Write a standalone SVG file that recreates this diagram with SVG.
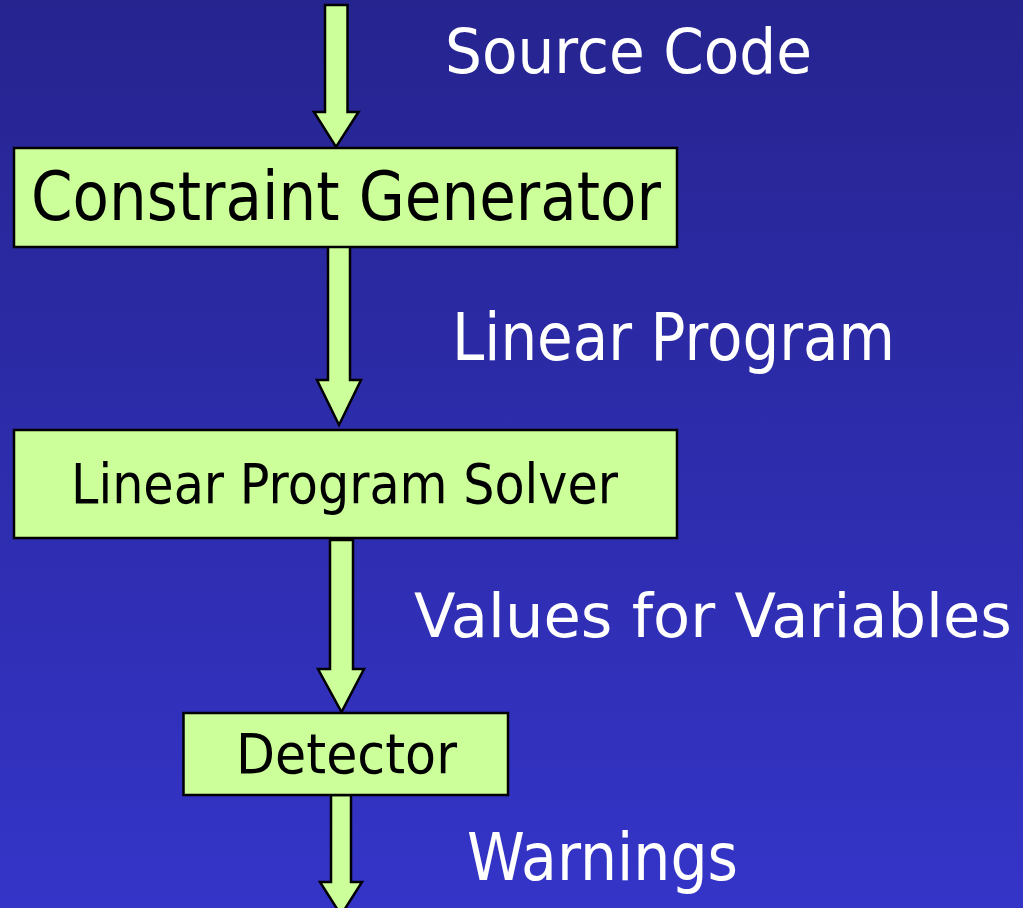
<svg xmlns="http://www.w3.org/2000/svg" width="1023" height="908" viewBox="0 0 1023 908">
<defs>
<linearGradient id="bg" x1="0" y1="0" x2="0" y2="1">
<stop offset="0" stop-color="#26248f"/>
<stop offset="1" stop-color="#3434c8"/>
</linearGradient>
</defs>
<style>
.box{fill:#ccff99;stroke:#000;stroke-width:2.5}
.arrow{fill:#ccff99;stroke:#000;stroke-width:2.5;stroke-linejoin:miter}
.lbl{font-family:"Comic Sans MS","DejaVu Sans",sans-serif;fill:#fff}
.txt{font-family:"Comic Sans MS","DejaVu Sans",sans-serif;fill:#000}
</style>
<rect width="1023" height="908" fill="url(#bg)"/>
<g id="connectors">
<path class="arrow" d="M325,5 H347.5 V112 H358.5 L336,147 L314,112 H325 Z"/>
<path class="arrow" d="M328,245 H350 V380 H361 L339,425 L317,380 H328 Z"/>
<path class="arrow" d="M330,540 H353 V669 H364 L341.5,712 L318,669 H330 Z"/>
<path class="arrow" d="M331,795 H351 V882 H362 L341,915 L320,882 H331 Z"/>
</g>
<g id="label-source-code"><text class="lbl" x="445" y="73" font-size="63" textLength="367" lengthAdjust="spacingAndGlyphs">Source Code</text></g>
<g id="node-constraint-generator">
<rect class="box" x="14" y="148" width="663" height="99"/>
<text class="txt" x="31" y="220" font-size="67" textLength="630" lengthAdjust="spacingAndGlyphs">Constraint Generator</text>
</g>
<g id="label-linear-program"><text class="lbl" x="452" y="360" font-size="65" textLength="443" lengthAdjust="spacingAndGlyphs">Linear Program</text></g>
<g id="node-lp-solver">
<rect class="box" x="14" y="430" width="663" height="108"/>
<text class="txt" x="71" y="503" font-size="56" textLength="547" lengthAdjust="spacingAndGlyphs">Linear Program Solver</text>
</g>
<g id="label-values"><text class="lbl" x="414" y="637" font-size="61" textLength="598" lengthAdjust="spacingAndGlyphs">Values for Variables</text></g>
<g id="node-detector">
<rect class="box" x="183.5" y="713" width="324.5" height="82"/>
<text class="txt" x="236" y="773" font-size="55" textLength="221" lengthAdjust="spacingAndGlyphs">Detector</text>
</g>
<g id="label-warnings"><text class="lbl" x="467" y="880" font-size="65" textLength="271" lengthAdjust="spacingAndGlyphs">Warnings</text></g>
</svg>
